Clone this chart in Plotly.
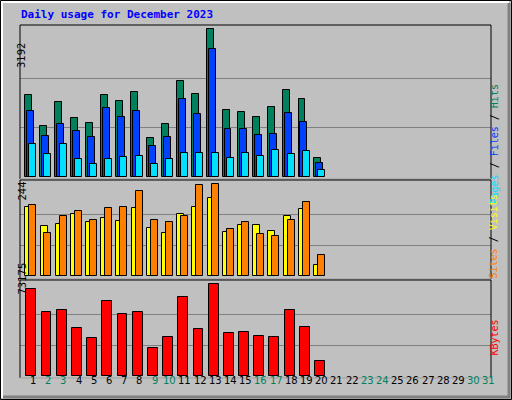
import plotly.graph_objects as go

days = list(range(1, 32))
hits = [1762, 1091, 1610, 1264, 1156, 1762, 1632, 1827, 831, 1134, 2066, 1784, 3192,
        1437, 1394, 1286, 1502, 1871, 1676, 397]
files = [1416, 874, 1134, 982, 852, 1481, 1286, 1416, 657, 852, 1676, 1351, 2759,
         1026, 1026, 896, 917, 1372, 1177, 289]
pages = [701, 484, 701, 376, 267, 376, 419, 441, 267, 376, 506, 506, 506,
         397, 506, 441, 571, 484, 549, 137]
sites = [183, 133, 138, 164, 143, 154, 146, 180, 127, 114, 164, 183, 209,
         117, 135, 135, 119, 159, 178, 29]
visits = [188, 114, 159, 172, 149, 180, 183, 225, 149, 143, 159, 241, 244,
          125, 143, 111, 106, 149, 196, 56]
kbytes = [69171, 50740, 52345, 37925, 29911, 59556, 49140, 50740, 21899, 30712, 62760,
          37122, 73175, 33917, 34718, 31513, 30712, 52345, 38724, 11484]
weekend = [2, 3, 9, 10, 16, 17, 23, 24, 30, 31]

W, H = 512, 400
L, R, T, B = 20, 491, 25, 378


def px(x):
    return (x - L) / (R - L)


def py(y):
    return (B - y) / (B - T)


n = len(hits)
d = days[:n]
fig = go.Figure()
line = dict(color="black", width=1)


def bar(vals, off, w, color, axis):
    fig.add_trace(go.Bar(x=[v + off for v in d], y=vals, width=w, marker_color=color,
                         marker_line=line, yaxis=axis, xaxis="x"))


bar(hits, 0.06, 0.46, "#00805C", "y")
bar(files, 0.19, 0.46, "#0040FF", "y")
bar(pages, 0.34, 0.46, "#00E0FF", "y")
bar(sites, 0.08, 0.46, "#FFFF00", "y2")
bar(visits, 0.34, 0.46, "#FF8000", "y2")
bar(kbytes, 0.245, 0.65, "#FF0000", "y3")

top_dom = [py(179), 1]
mid_dom = [py(280), py(180)]
bot_dom = [0, py(280)]

yax = dict(showticklabels=False, ticks="", showgrid=True, gridcolor="#808080",
           gridwidth=1, zeroline=False, showline=False, fixedrange=True)
fig.update_layout(
    width=W, height=H, margin=dict(l=L, r=W - R, t=T, b=H - B),
    paper_bgcolor="#C0C0C0", plot_bgcolor="#C0C0C0",
    barmode="overlay", showlegend=False, bargap=0,
    xaxis=dict(range=[0.5, 31.5], showticklabels=False, ticks="", showgrid=False,
               zeroline=False, showline=False),
    yaxis=dict(yax, domain=top_dom, range=[-50, 3278], tickvals=[1064, 2128]),
    yaxis2=dict(yax, domain=mid_dom, range=[-9.8, 255.4], tickvals=[81.3, 162.7]),
    yaxis3=dict(yax, domain=bot_dom, range=[-1841, 76617], tickvals=[24392, 48783]),
)

mono = "DejaVu Sans Mono"
anns = [dict(text="<b>Daily usage for December 2023</b>", x=px(19), y=py(15), xref="paper",
             yref="paper", xanchor="left", yanchor="middle", showarrow=False,
             font=dict(family=mono, size=11, color="#0000FF"))]
for lab, ypx in [("3192", 41), ("244", 191), ("73175", 297)]:
    anns.append(dict(text=lab, x=px(14), y=py(ypx), xref="paper", yref="paper",
                     textangle=-90, showarrow=False,
                     font=dict(family="DejaVu Sans", size=10, color="black")))
for day in days:
    anns.append(dict(text=str(day), x=day + 0.356, y=py(388), xref="x", yref="paper",
                     showarrow=False,
                     font=dict(family="DejaVu Sans", size=10,
                               color="#00805C" if day in weekend else "black")))
side = [
    ('<span style="color:#00E0FF">Pages</span> / <span style="color:#0040FF">Files</span>'
     ' / <span style="color:#00805C">Hits</span>', 83),
    ('<span style="color:#FF8000">Sites</span> / <span style="color:#FFFF00">Visits</span>', 237),
    ('<span style="color:#FF0000">KBytes</span>', 358),
]
for txt, ypx in side:
    anns.append(dict(text=txt, x=px(501), y=py(ypx), xref="paper", yref="paper",
                     textangle=-90, showarrow=False,
                     font=dict(family=mono, size=10, color="black")))
fig.update_layout(annotations=anns)

shapes = []
for y0, y1 in [(25, 179), (180, 279), (280, 378)]:
    shapes.append(dict(type="rect", xref="paper", yref="paper", x0=0, x1=1,
                       y0=py(y1), y1=py(y0), line=dict(color="black", width=1)))
    shapes.append(dict(type="line", xref="paper", yref="paper", x0=0, x1=1,
                       y0=py(y1), y1=py(y1), line=dict(color="white", width=1)))
# outer frame with bevel
shapes.append(dict(type="rect", xref="paper", yref="paper", x0=px(0.5), x1=px(511.5),
                   y0=py(399.5), y1=py(0.5), line=dict(color="black", width=1)))
shapes.append(dict(type="path", xref="paper", yref="paper",
                   path=f"M {px(2)} {py(398)} L {px(2)} {py(2)} L {px(509)} {py(2)}",
                   line=dict(color="white", width=2)))
shapes.append(dict(type="path", xref="paper", yref="paper",
                   path=f"M {px(3)} {py(397)} L {px(509)} {py(397)} L {px(509)} {py(3)}",
                   line=dict(color="#808080", width=3)))
fig.update_layout(shapes=shapes)

fig.write_html("out.html", config={"displayModeBar": False},
               post_script="document.body.style.margin='0';")
